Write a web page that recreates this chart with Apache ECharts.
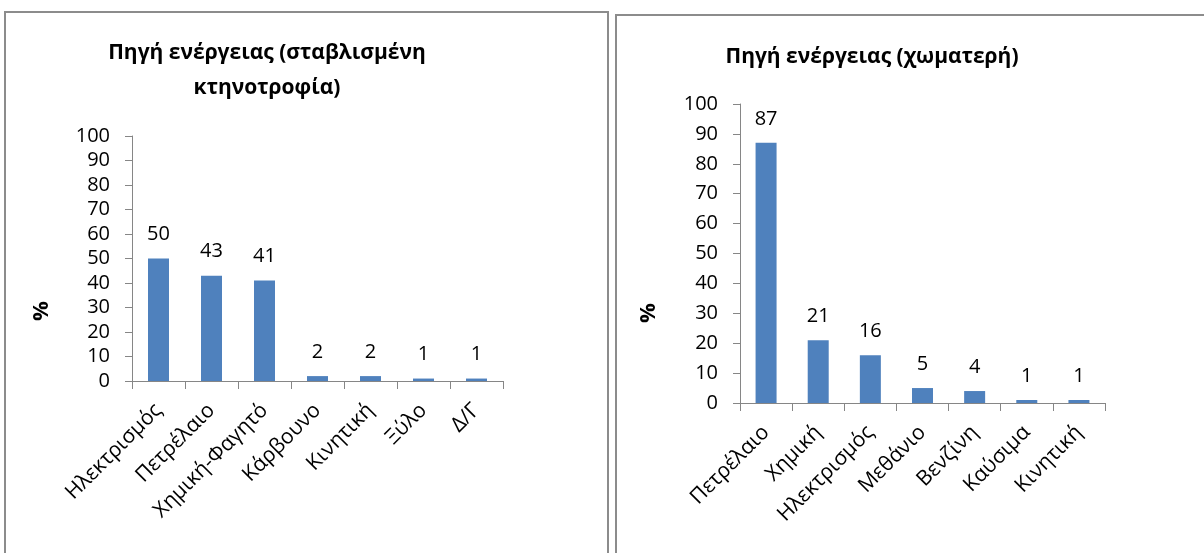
<!DOCTYPE html>
<html>
<head>
<meta charset="utf-8">
<script src="https://cdn.jsdelivr.net/npm/echarts@6/dist/echarts.min.js"></script>
<style>
  html, body { margin: 0; padding: 0; background: #ffffff; }
  #chart { width: 1204px; height: 553px; }
</style>
</head>
<body>
<div id="chart"></div>
<script>
// Energy source, stall-fed livestock (%)
const stableCategories = ['Ηλεκτρισμός', 'Πετρέλαιο', 'Χημική-Φαγητό', 'Κάρβουνο', 'Κινητική', 'Ξύλο', 'Δ/Γ'];
const stableValues = [50, 43, 41, 2, 2, 1, 1];

// Energy source, landfill (%)
const landfillCategories = ['Πετρέλαιο', 'Χημική', 'Ηλεκτρισμός', 'Μεθάνιο', 'Βενζίνη', 'Καύσιμα', 'Κινητική'];
const landfillValues = [87, 21, 16, 5, 4, 1, 1];

const titles = ['Πηγή ενέργειας (σταβλισμένη\nκτηνοτροφία)', 'Πηγή ενέργειας (χωματερή)'];
const axisTitle = '%';
const yTicks = { min: 0, max: 100, interval: 10 };

const FONT = '"Open Sans", "Noto Sans", sans-serif';
const BAR = '#4F81BD';
const AXIS = '#868686';
const BORDER = '#8c8c8c';

const chart = echarts.init(document.getElementById('chart'), null, { renderer: 'canvas' });

function xAxisFor(idx, cats) {
  return {
    type: 'category',
    gridIndex: idx,
    data: cats,
    boundaryGap: true,
    axisLine: { lineStyle: { color: AXIS, width: 1 } },
    axisTick: { show: true, alignWithLabel: false, length: 8, lineStyle: { color: AXIS } },
    axisLabel: {
      interval: 0,
      rotate: 45,
      margin: 26,
      color: '#000',
      fontFamily: FONT,
      fontSize: 21
    },
    splitLine: { show: false }
  };
}

function yAxisFor(idx) {
  return {
    type: 'value',
    gridIndex: idx,
    min: yTicks.min,
    max: yTicks.max,
    interval: yTicks.interval,
    axisLine: { show: true, lineStyle: { color: AXIS, width: 1 } },
    axisTick: { show: true, length: 7, lineStyle: { color: AXIS } },
    axisLabel: { margin: 22, color: '#000', fontFamily: FONT, fontSize: 20 },
    splitLine: { show: false }
  };
}

function barSeries(idx, values) {
  return {
    type: 'bar',
    xAxisIndex: idx,
    yAxisIndex: idx,
    data: values,
    barWidth: 21,
    itemStyle: { color: BAR },
    label: {
      show: true,
      position: 'top',
      distance: 14,
      color: '#000',
      fontFamily: FONT,
      fontSize: 20
    },
    silent: true
  };
}

chart.setOption({
  animation: false,
  backgroundColor: '#ffffff',
  grid: [
    { left: 132, top: 136, width: 371, height: 245, containLabel: false },
    { left: 740, top: 104, width: 365, height: 299, containLabel: false }
  ],
  xAxis: [xAxisFor(0, stableCategories), xAxisFor(1, landfillCategories)],
  yAxis: [yAxisFor(0), yAxisFor(1)],
  series: [barSeries(0, stableValues), barSeries(1, landfillValues)],
  graphic: [
    // panel frames
    { type: 'polyline', shape: { points: [[5, 560], [5, 12], [608, 12], [608, 560]] },
      style: { stroke: BORDER, lineWidth: 2, fill: null }, silent: true },
    { type: 'polyline', shape: { points: [[616, 560], [616, 15], [1210, 15]] },
      style: { stroke: BORDER, lineWidth: 2, fill: null }, silent: true },
    // chart titles
    { type: 'text', x: 267, y: 71, silent: true,
      style: { text: titles[0], font: 'bold 21px ' + FONT, fill: '#000',
               textAlign: 'center', textVerticalAlign: 'middle', lineHeight: 35 } },
    { type: 'text', x: 872, y: 57, silent: true,
      style: { text: titles[1], font: 'bold 21px ' + FONT, fill: '#000',
               textAlign: 'center', textVerticalAlign: 'middle' } },
    // value axis titles
    { type: 'text', x: 42, y: 311, rotation: Math.PI / 2, silent: true,
      style: { text: axisTitle, font: 'bold 22px ' + FONT, fill: '#000',
               textAlign: 'center', textVerticalAlign: 'middle' } },
    { type: 'text', x: 649, y: 313, rotation: Math.PI / 2, silent: true,
      style: { text: axisTitle, font: 'bold 22px ' + FONT, fill: '#000',
               textAlign: 'center', textVerticalAlign: 'middle' } }
  ]
});
</script>
</body>
</html>
